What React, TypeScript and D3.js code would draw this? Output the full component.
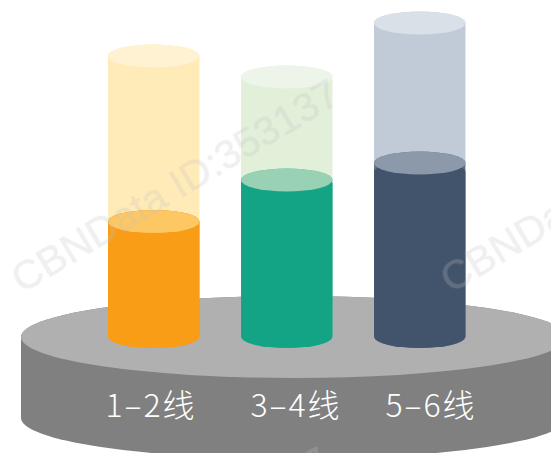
import React from "react";
import * as d3 from "d3";

const categories = ["1–2线", "3–4线", "5–6线"];
const totals = [280.5, 259.5, 313.5];
const fills = [115, 156.5, 173.5];
const bands = [0, 3.5, 9];
const bodyColors = ["#f99d17", "#13a485", "#42546b"];
const glassColors = ["#ffebb7", "#e2efd9", "#c1cbd8"];
const glassTopColors = ["#fff2d2", "#edf5ea", "#d9e0e8"];
const lidColors = ["#fdc763", "#98d1b3", "#8b99aa"];
const bandColors = ["#f99d17", "#62bb9c", "#62748a"];
const labelCenters = [151, 296, 431];
const watermarks = [
  { text: "CBNData ID:353137", x: 22, y: 294 },
  { text: "CBNData ID:353137", x: 451, y: 294 },
  { text: "CBNData ID:353137", x: 12, y: 662 },
];

const W = 551, H = 453;
const baseY = 336.5, rx = 45.7, ry = 11.5;
const x = d3.scaleBand<string>().domain(categories).range([108, 465.5]).paddingInner(0.312).paddingOuter(0);
const y = d3.scaleLinear().domain([0, 320]).range([baseY, baseY - 320]);

const cylinder = (cx: number, top: number, bottom: number, rX: number, rY: number) =>
  `M${cx - rX},${top}A${rX},${rY} 0 0 1 ${cx + rX},${top}L${cx + rX},${bottom}A${rX},${rY} 0 0 1 ${cx - rX},${bottom}Z`;

export default function App() {
  const pcx = 294, prx = 273, pcy = 337, pry = 41, pDepth = 81;
  return (
    <svg width={W} height={H} style={{ position: "fixed", left: 0, top: 0, display: "block" }}>
      <defs>
        <filter id="soft" x="-5%" y="-5%" width="110%" height="110%">
          <feGaussianBlur stdDeviation="0.7" />
        </filter>
      </defs>
      <rect width={W} height={H} fill="#ffffff" />
      <path d={cylinder(pcx, pcy, pcy + pDepth, prx, pry)} fill="#808080" />
      <ellipse cx={pcx} cy={pcy} rx={prx} ry={pry} fill="#b0b0b0" />
      {categories.map((c, i) => {
        const cx = (x(c) as number) + x.bandwidth() / 2;
        const topY = y(totals[i]);
        const fillY = y(fills[i]);
        const bodyY = fillY + bands[i];
        return (
          <g key={c}>
            <path d={cylinder(cx, topY, fillY, rx, ry)} fill={glassColors[i]} />
            <path d={cylinder(cx, fillY, baseY, rx, ry)} fill={bandColors[i]} />
            <path d={cylinder(cx, bodyY, baseY, rx, ry)} fill={bodyColors[i]} />
            <ellipse cx={cx} cy={topY} rx={rx} ry={ry} fill={glassTopColors[i]} />
            <ellipse cx={cx} cy={fillY} rx={rx} ry={ry} fill={lidColors[i]} />
          </g>
        );
      })}
      {categories.map((c, i) => (
        <text key={c} x={labelCenters[i]} y={417} textAnchor="middle" fill="#ffffff" fontSize={32} fontWeight={300} letterSpacing={2}
          fontFamily="'Noto Sans CJK SC', sans-serif">{c}</text>
      ))}
      {watermarks.map((w, i) => (
        <text key={i} transform={`translate(${w.x},${w.y}) rotate(-31)`} fill="#c2c2c2" fillOpacity={0.24}
          filter="url(#soft)" fontSize={41} stroke="#c2c2c2" strokeOpacity={0.12} strokeWidth={0.8}
          fontFamily="'Liberation Sans', sans-serif">{w.text}</text>
      ))}
    </svg>
  );
}
